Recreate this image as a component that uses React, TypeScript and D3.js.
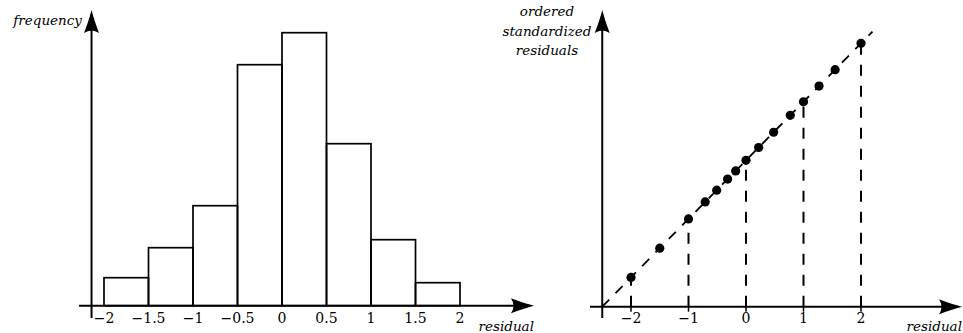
import * as d3 from "d3";

// histogram of residuals
const binEdges = [-2, -1.5, -1, -0.5, 0, 0.5, 1, 1.5, 2];
const binFreq = [2.8, 5.8, 10, 24.1, 27.3, 16.2, 6.6, 2.3];
const histTicks = [-2, -1.5, -1, -0.5, 0, 0.5, 1, 1.5, 2];

// normal probability plot
const qqX = [-2, -1.5, -1, -0.71, -0.51, -0.32, -0.18, 0, 0.22, 0.48, 0.77, 1, 1.27, 1.55, 2];
const qqY = [-2, -1.5, -1, -0.71, -0.51, -0.32, -0.18, 0, 0.22, 0.48, 0.77, 1, 1.27, 1.55, 2];
const qqTicks = [-2, -1, 0, 1, 2];
const dropTicks = [-2, -1, 0, 1, 2];

const W = 963;
const H = 333;
const serif = "DejaVu Serif, serif";

const fmt = (v: number) => (v < 0 ? "\u2212" + String(-v) : String(v));

// latex-ish arrow head pointing right, tip at origin
const arrowPath = "M0,0 Q-10,-2.5 -23,-7.5 Q-18,0 -23,7.5 Q-10,2.5 0,0 Z";

function Arrow({ x, y, angle }: { x: number; y: number; angle: number }) {
  return <path d={arrowPath} transform={`translate(${x},${y}) rotate(${angle})`} fill="#000" />;
}

function Histogram() {
  const x = d3.scaleLinear().domain([-2, 2]).range([104, 460]);
  const y = d3.scaleLinear().domain([0, 30]).range([305.7, 5.7]);
  const y0 = y(0);
  const axisX = x(-2.14);

  return (
    <g>
      {binFreq.map((f, i) => (
        <rect
          key={i}
          x={x(binEdges[i])}
          y={y(f)}
          width={x(binEdges[i + 1]) - x(binEdges[i])}
          height={y0 - y(f)}
          fill="none"
          stroke="#000"
          strokeWidth={1.7}
        />
      ))}
      <line x1={x(-2.28)} x2={530} y1={y0} y2={y0} stroke="#000" strokeWidth={2} />
      <line x1={axisX} x2={axisX} y1={318} y2={14} stroke="#000" strokeWidth={2} />
      <Arrow x={534} y={y0} angle={0} />
      <Arrow x={axisX} y={10} angle={-90} />
      {histTicks.map((t) => (
        <text key={t} x={x(t)} y={323} textAnchor="middle" fontFamily={serif} fontSize={14}>
          {fmt(t)}
        </text>
      ))}
      <text x={82} y={25} textAnchor="end" fontFamily={serif} fontStyle="italic" fontSize={13.5}>
        frequency
      </text>
      <text x={534} y={331} textAnchor="end" fontFamily={serif} fontStyle="italic" fontSize={13.5}>
        residual
      </text>
    </g>
  );
}

function QQPlot() {
  const x = d3.scaleLinear().domain([-2, 2]).range([631, 861]);
  const y = d3.scaleLinear().domain([-2.5, 2]).range([306.7, 43.3]);
  const y0 = y(-2.5);
  const axisX = x(-2.5);
  const lineEnd = 2.2;

  return (
    <g>
      <line
        x1={x(-2.5)}
        y1={y(-2.5)}
        x2={x(lineEnd)}
        y2={y(lineEnd)}
        stroke="#000"
        strokeWidth={1.8}
        strokeDasharray="10 9"
      />
      {dropTicks.map((t) => {
        const i = qqX.indexOf(t);
        return (
          <line
            key={t}
            x1={x(t)}
            x2={x(t)}
            y1={y0}
            y2={y(qqY[i])}
            stroke="#000"
            strokeWidth={2}
            strokeDasharray="11 10"
          />
        );
      })}
      {qqX.map((v, i) => (
        <circle key={i} cx={x(v)} cy={y(qqY[i])} r={4.6} fill="#000" />
      ))}
      <line x1={590} x2={958} y1={y0} y2={y0} stroke="#000" strokeWidth={2} />
      <line x1={axisX} x2={axisX} y1={318} y2={14} stroke="#000" strokeWidth={2} />
      <Arrow x={962} y={y0} angle={0} />
      <Arrow x={axisX} y={10} angle={-90} />
      {qqTicks.map((t) => (
        <g key={t}>
          <line x1={x(t)} x2={x(t)} y1={y0} y2={y0 + 5} stroke="#000" strokeWidth={1.5} />
          <text x={x(t)} y={323} textAnchor="middle" fontFamily={serif} fontSize={14}>
            {fmt(t)}
          </text>
        </g>
      ))}
      <g fontFamily={serif} fontStyle="italic" fontSize={13.5} textAnchor="middle">
        <text x={547} y={16}>ordered</text>
        <text x={547} y={35.5}>standardized</text>
        <text x={547} y={55}>residuals</text>
      </g>
      <text x={962} y={331} textAnchor="end" fontFamily={serif} fontStyle="italic" fontSize={13.5}>
        residual
      </text>
    </g>
  );
}

export default function App() {
  return (
    <svg width={W} height={H} style={{ position: "absolute", left: 0, top: 0, background: "#fff" }}>
      <Histogram />
      <QQPlot />
    </svg>
  );
}
